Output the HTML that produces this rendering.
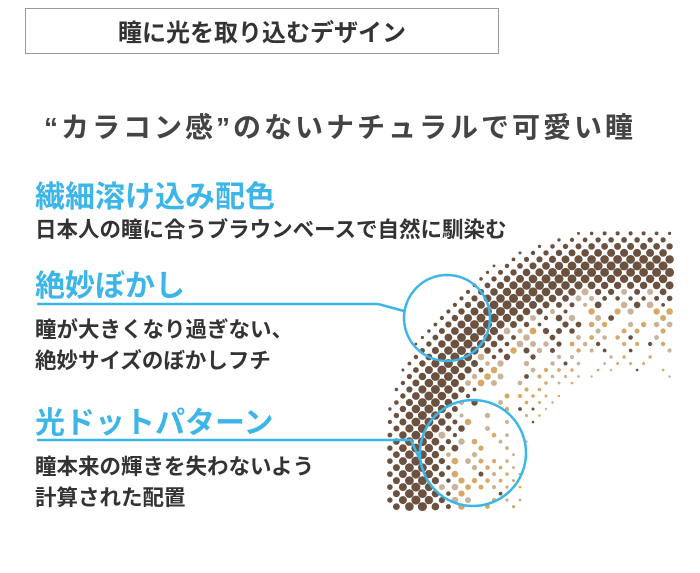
<!DOCTYPE html>
<html><head><meta charset="utf-8"><style>
body{margin:0;width:700px;height:573px;background:#fff;position:relative;overflow:hidden;font-family:"Liberation Sans","Noto Sans CJK JP",sans-serif;}
.a{position:absolute;white-space:nowrap;}
.box{position:absolute;left:25px;top:8px;width:474px;height:46px;border:1px solid #999;box-sizing:border-box;}
.t{left:25px;width:474px;text-align:center;top:13px;font-size:24px;font-weight:bold;color:#333;letter-spacing:0;}
.s{left:0;width:680px;text-align:center;top:106px;font-size:28px;font-weight:bold;color:#444;letter-spacing:3px;}
.h{left:35px;font-size:30px;font-weight:bold;color:#3cb5e8;}
.b{left:35px;font-size:21.5px;font-weight:bold;color:#333;}
</style></head><body>
<div class="box"></div>
<div class="a t">瞳に光を取り込むデザイン</div>
<div class="a s">“カラコン感”のないナチュラルで可愛い瞳</div>
<div class="a h" style="top:172px">繊細溶け込み配色</div>
<div class="a b" style="top:213px">日本人の瞳に合うブラウンベースで自然に馴染む</div>
<div class="a h" style="top:261px">絶妙ぼかし</div>
<div class="a b" style="top:313px">瞳が大きくなり過ぎない、</div>
<div class="a b" style="top:344px">絶妙サイズのぼかしフチ</div>
<div class="a h" style="top:398px">光ドットパターン</div>
<div class="a b" style="top:450px">瞳本来の輝きを失わないよう</div>
<div class="a b" style="top:481px">計算された配置</div>
<svg id="sv" width="700" height="573" style="position:absolute;left:0;top:0">
<g id="dots"></g>
<g fill="none" stroke="#3cb5e8" stroke-width="2.5">
<polyline points="37,304 378,304 404,311"/>
<circle cx="447" cy="318" r="43"/>
<polyline points="37,440 411,440 420,460"/>
<circle cx="473" cy="453" r="53"/>
</g>
</svg>
<script>
var g=document.getElementById('dots'),cx=627,cy=477,s='';
var ang=Math.PI/4,sp=9.2;
for(var i=-60;i<60;i++)for(var j=-60;j<60;j++){
 var u=i*sp,v=j*sp;
 var x=520+u*Math.cos(ang)-v*Math.sin(ang), y=370+u*Math.sin(ang)+v*Math.cos(ang);
 if(x<384||x>672||y<226||y>508)continue;
 var d=Math.hypot(x-cx,y-cy);
 if(d>250||d<105)continue;
 var h=Math.sin(i*12.9898+j*78.233)*43758.5;h=h-Math.floor(h);
 var r,c;
 if(d>175){var t=(d-175)/75; r=1.3+3.2*Math.sin(Math.PI*Math.min(1,Math.max(0,t*0.95+0.05))); if(t>0.8)r=Math.max(1.2,r); c='#6b5240';
   if(d<190&&h<0.3)c='#c9b49a';}
 else{ if(h<0.3)continue; r=1.2+(d-105)/70*2.2; c=h<0.6?'#d8a866':(h<0.88?'#c9b49a':'#6b5240');}
 if(r<0.9)r=0.9;
 s+='<circle cx="'+x.toFixed(1)+'" cy="'+y.toFixed(1)+'" r="'+r.toFixed(1)+'" fill="'+c+'"/>';
}
g.innerHTML=s;
</script>
</body></html>
